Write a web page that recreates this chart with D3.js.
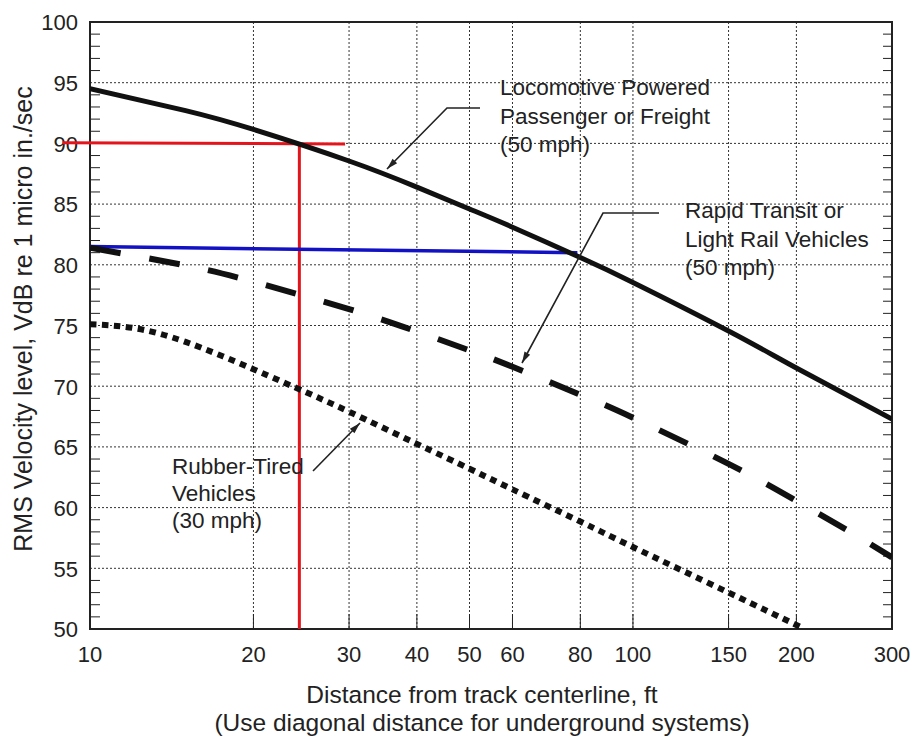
<!DOCTYPE html>
<html>
<head>
<meta charset="utf-8">
<script src="https://cdn.jsdelivr.net/npm/d3@7"></script>
<style>
  body { margin: 0; background: #fff; }
  text { font-family: "Liberation Sans", Arial, sans-serif; fill: #222; }
</style>
</head>
<body>
<div id="chart-area"></div>
<script>
// tick values
var distTicks = [10, 20, 30, 40, 50, 60, 80, 100, 150, 200, 300];
var levelTicks = [50, 55, 60, 65, 70, 75, 80, 85, 90, 95, 100];
var levelMinor = d3.range(51, 100).filter(function (v) { return v % 5 !== 0; });

// Locomotive Powered Passenger or Freight (50 mph)
var locoDist  = [10, 15, 20, 30, 40, 50, 60, 80, 100, 150, 200, 300];
var locoLevel = [94.5, 92.7, 91.15, 88.55, 86.4, 84.6, 83.1, 80.6, 78.55, 74.55, 71.5, 67.3];

// Rapid Transit or Light Rail Vehicles (50 mph)
var railDist  = [10, 15, 20, 30, 40, 50, 60, 80, 100, 150, 200, 250, 300];
var railLevel = [81.4, 79.95, 78.6, 76.35, 74.5, 72.95, 71.6, 69.3, 67.4, 63.6, 60.55, 58.05, 55.9];

// Rubber-Tired Vehicles (30 mph)
var tireDist  = [10, 12, 15, 20, 25, 30, 40, 50, 60, 80, 100, 150, 205];
var tireLevel = [75.1, 74.8, 73.65, 71.4, 69.5, 67.9, 65.25, 63.2, 61.5, 58.85, 56.75, 53.0, 50.1];

// reading lines
var redDist = [8.9, 29.5],   redLevel = [90.05, 89.95];
var dropDist = [24.3, 24.3], dropLevel = [90, 50];
var blueDist = [10, 79],     blueLevel = [81.5, 81.0];

var margin = { left: 90, right: 22, top: 22, bottom: 109 };
var width = 914 - margin.left - margin.right,
    height = 738 - margin.top - margin.bottom;

var svg = d3.select("#chart-area")
    .append("svg")
        .attr("width", 914)
        .attr("height", 738);

var g = svg.append("g")
    .attr("transform", "translate(" + margin.left + "," + margin.top + ")");

var x = d3.scaleLog().domain([10, 300]).range([0, width]);
var y = d3.scaleLinear().domain([50, 100]).range([height, 0]);

function zip(xs, ys) {
    return xs.map(function (d, i) { return { d: d, v: ys[i] }; });
}

g.append("clipPath").attr("id", "clip")
    .append("rect").attr("width", width).attr("height", height);

// grid
g.selectAll(".vgrid")
    .data(distTicks.slice(1, -1))
    .enter().append("line")
        .attr("x1", function (d) { return x(d); })
        .attr("x2", function (d) { return x(d); })
        .attr("y1", 0)
        .attr("y2", height)
        .attr("stroke", "#333")
        .attr("stroke-width", 1)
        .attr("stroke-dasharray", "2,2");

g.selectAll(".hgrid")
    .data(levelTicks.slice(1, -1))
    .enter().append("line")
        .attr("x1", 0)
        .attr("x2", width)
        .attr("y1", function (d) { return y(d); })
        .attr("y2", function (d) { return y(d); })
        .attr("stroke", "#333")
        .attr("stroke-width", 1)
        .attr("stroke-dasharray", "2,2");

// minor ticks inside left and right edges
g.selectAll(".minorL")
    .data(levelMinor)
    .enter().append("line")
        .attr("x1", 0).attr("x2", 10)
        .attr("y1", function (d) { return y(d); })
        .attr("y2", function (d) { return y(d); })
        .attr("stroke", "#222");
g.selectAll(".minorR")
    .data(levelMinor)
    .enter().append("line")
        .attr("x1", width - 9).attr("x2", width)
        .attr("y1", function (d) { return y(d); })
        .attr("y2", function (d) { return y(d); })
        .attr("stroke", "#222");

// x ticks from the bottom
g.selectAll(".xtick")
    .data(distTicks)
    .enter().append("line")
        .attr("x1", function (d) { return x(d); })
        .attr("x2", function (d) { return x(d); })
        .attr("y1", height - 15).attr("y2", height)
        .attr("stroke", "#222");

// tick labels
g.selectAll(".xlab")
    .data(distTicks)
    .enter().append("text")
        .attr("x", function (d) { return x(d); })
        .attr("y", height + 33)
        .attr("text-anchor", "middle")
        .attr("font-size", "22px")
        .text(function (d) { return d; });

g.selectAll(".ylab")
    .data(levelTicks)
    .enter().append("text")
        .attr("x", -12)
        .attr("y", function (d) { return y(d); })
        .attr("dy", "0.38em")
        .attr("text-anchor", "end")
        .attr("font-size", "22px")
        .text(function (d) { return d; });

// frame
g.append("rect")
    .attr("width", width).attr("height", height)
    .attr("fill", "none")
    .attr("stroke", "#222")
    .attr("stroke-width", 2);

// axis titles
g.append("text")
    .attr("x", 482 - margin.left)
    .attr("y", height + 74)
    .attr("text-anchor", "middle")
    .attr("font-size", "24.5px")
    .text("Distance from track centerline, ft");
g.append("text")
    .attr("x", 482 - margin.left)
    .attr("y", height + 102)
    .attr("text-anchor", "middle")
    .attr("font-size", "24.5px")
    .text("(Use diagonal distance for underground systems)");

svg.append("text")
    .attr("transform", "translate(32," + (margin.top + 297) + ") rotate(-90)")
    .attr("text-anchor", "middle")
    .attr("font-size", "25px")
    .text("RMS Velocity level, VdB re 1 micro in./sec");

var line = d3.line()
    .x(function (p) { return x(p.d); })
    .y(function (p) { return y(p.v); });

var curve = d3.line()
    .curve(d3.curveNatural)
    .x(function (p) { return x(p.d); })
    .y(function (p) { return y(p.v); });

// red and blue reading lines
g.append("path")
    .attr("d", line(zip(redDist, redLevel)))
    .attr("fill", "none").attr("stroke", "#e3141b").attr("stroke-width", 3);
g.append("path")
    .attr("d", line(zip(dropDist, dropLevel)))
    .attr("fill", "none").attr("stroke", "#e3141b").attr("stroke-width", 3);
g.append("path")
    .attr("d", line(zip(blueDist, blueLevel)))
    .attr("fill", "none").attr("stroke", "#1212c4").attr("stroke-width", 3.5);

// curves
var curves = g.append("g").attr("clip-path", "url(#clip)");

curves.append("path")
    .attr("d", curve(zip(locoDist, locoLevel)))
    .attr("fill", "none").attr("stroke", "#111").attr("stroke-width", 5);

curves.append("path")
    .attr("d", curve(zip(railDist, railLevel)))
    .attr("fill", "none").attr("stroke", "#111").attr("stroke-width", 6)
    .attr("stroke-dasharray", "31,29");

curves.append("path")
    .attr("d", curve(zip(tireDist, tireLevel)))
    .attr("fill", "none").attr("stroke", "#111").attr("stroke-width", 6)
    .attr("stroke-dasharray", "6.5,5.5");

// annotations (page pixels)
svg.append("defs").append("marker")
    .attr("id", "arrow")
    .attr("viewBox", "0 0 14 10")
    .attr("refX", 14).attr("refY", 5)
    .attr("markerWidth", 13).attr("markerHeight", 8)
    .attr("markerUnits", "userSpaceOnUse")
    .attr("orient", "auto")
    .append("path")
        .attr("d", "M0,1 L14,5 L0,9 Z")
        .attr("fill", "#222");

var notes = [
    { lines: ["Locomotive Powered", "Passenger or Freight", "(50 mph)"], x: 500, y: 95, step: 28.5,
      arrow: [[480, 108], [447, 108], [387, 169]] },
    { lines: ["Rapid Transit or", "Light Rail Vehicles", "(50 mph)"], x: 685, y: 218, step: 28.5,
      arrow: [[659, 213], [603, 213], [522, 363]] },
    { lines: ["Rubber-Tired", "Vehicles", "(30 mph)"], x: 172, y: 474, step: 27,
      arrow: [[313, 471], [360, 423]] }
];

notes.forEach(function (n) {
    var t = svg.append("text")
        .attr("font-size", "22.5px")
        .attr("x", n.x).attr("y", n.y);
    n.lines.forEach(function (s, i) {
        t.append("tspan").attr("x", n.x).attr("dy", i === 0 ? 0 : n.step).text(s);
    });
    svg.append("path")
        .attr("d", d3.line()(n.arrow))
        .attr("fill", "none")
        .attr("stroke", "#222")
        .attr("stroke-width", 1.6)
        .attr("marker-end", "url(#arrow)");
});
</script>
</body>
</html>
